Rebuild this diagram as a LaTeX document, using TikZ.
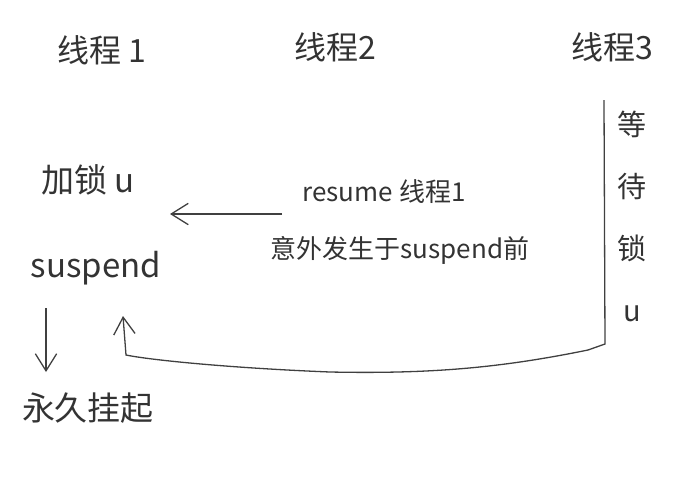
\documentclass[tikz,border=0pt]{standalone}
\usepackage{fontspec}
\setmainfont{Noto Sans CJK SC}
\usepackage{tikz}
\usetikzlibrary{positioning,arrows.meta}
\tikzset{
  flowarrow/.style={-{Straight Barb[length=6mm,width=7.5mm]}, line width=1.3pt, draw=black!75},
  waitline/.style={line width=1.3pt, draw=black!75},
  head/.style={font=\fontsize{32}{36}\selectfont, text=black!80, inner sep=0pt},
  stepbox/.style={font=\fontsize{33}{38}\selectfont, text=black!80, inner sep=0pt},
  note/.style={font=\fontsize{26}{30}\selectfont, text=black!80, inner sep=0pt},
  vlabel/.style={font=\fontsize{29}{62}\selectfont, text=black!80, inner sep=0pt, align=center}
}
\begin{document}
\begin{tikzpicture}[x=1pt, y=-1pt]
  \useasboundingbox (0,0) rectangle (694,483);
  \node[head] (t1) at (102,50) {线程 1};
  \node[head] (t2) at (335,47) {线程2};
  \node[head] (t3) at (612,47) {线程3};
  \node[stepbox] (lock) at (88,180) {加锁 u};
  \node[stepbox] (susp) at (96,268) {suspend};
  \node[stepbox] (hang) at (88,408) {永久挂起};
  \node[note] (resume) at (384,192) {resume 线程1};
  \node[note] (accident) at (400,250) {意外发生于suspend前};
  \node[vlabel] (wait) at (632,216) {等\\待\\锁\\u};
  \coordinate (tail) at (282,214);
  \coordinate (hit) at (170,214);
  \coordinate (t3top) at (604,100);
  \coordinate (hangtop) at (46,308);
  \coordinate (hangend) at (46,372);
  \draw[flowarrow] (tail) -- (hit);
  \draw[flowarrow] (hangtop) -- (hangend);
  \draw[flowarrow] (t3top) -- (605,344) -- (588,350)
    .. controls (500,368) and (430,374) .. (330,372)
    .. controls (230,368) and (150,360) .. (126,355) -- (123,316);
\end{tikzpicture}
\end{document}
